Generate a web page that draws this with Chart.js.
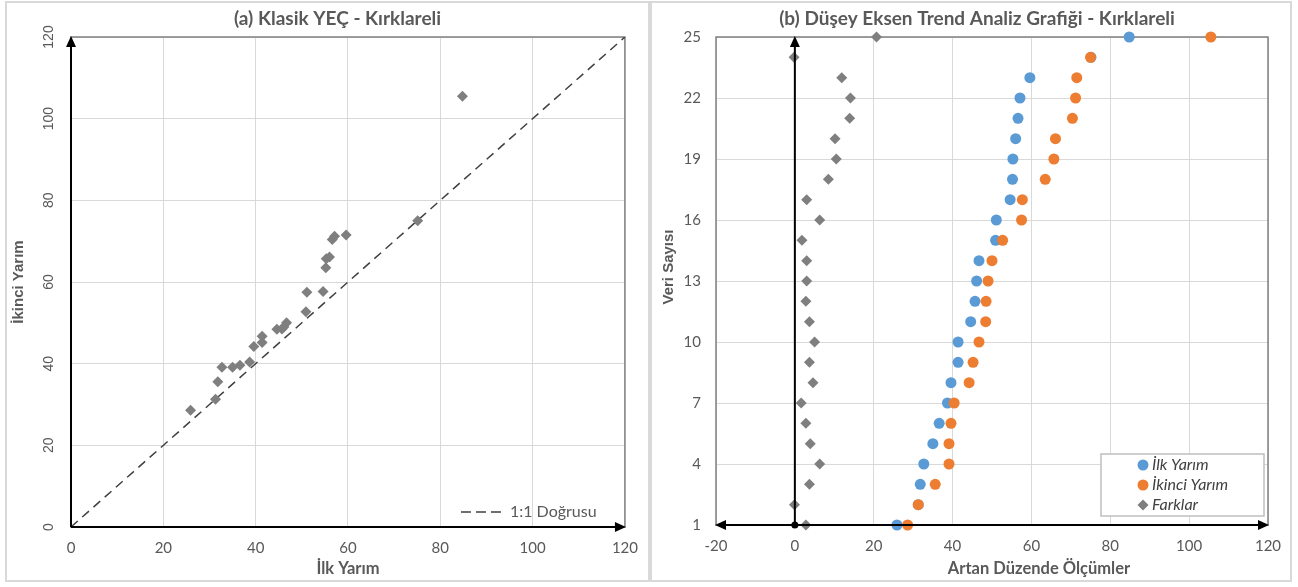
<!DOCTYPE html>
<html>
<head>
<meta charset="utf-8">
<script src="https://cdn.jsdelivr.net/npm/chart.js@4.4.0/dist/chart.umd.min.js"></script>
<style>
  body { margin: 0; background: #fff; }
  #wrap { position: relative; width: 1298px; height: 587px; }
  canvas { position: absolute; top: 0; }
  #chartA { left: 0; }
  #chartB { left: 650px; }
</style>
</head>
<body>
<div id="wrap">
  <canvas id="chartA" width="650" height="587"></canvas>
  <canvas id="chartB" width="648" height="587"></canvas>
</div>
<script>
// sira numarasi (artan duzende)
const sira = [1, 2, 3, 4, 5, 6, 7, 8, 9, 10, 11, 12, 13, 14, 15, 16, 17, 18, 19, 20, 21, 22, 23, 24, 25];
const ilkYarim = [25.9, 31.3, 31.8, 32.7, 35.0, 36.6, 38.7, 39.6, 41.4, 41.4, 44.6, 45.7, 46.1, 46.7, 50.9, 51.1, 54.6, 55.2, 55.3, 56.0, 56.6, 57.1, 59.6, 75.1, 84.8];
const ikinciYarim = [28.6, 31.3, 35.6, 39.1, 39.1, 39.6, 40.4, 44.2, 45.2, 46.7, 48.4, 48.5, 49.0, 50.0, 52.7, 57.5, 57.7, 63.5, 65.7, 66.1, 70.4, 71.2, 71.5, 75.0, 105.5];
const farklar = [2.8, -0.1, 3.7, 6.3, 3.9, 2.8, 1.6, 4.6, 3.7, 5.0, 3.7, 2.8, 3.0, 3.0, 1.8, 6.3, 3.0, 8.5, 10.5, 10.2, 13.9, 14.1, 11.9, -0.2, 20.7];
const birebir = [0, 120];

const xTicksA = [0, 20, 40, 60, 80, 100, 120];
const xTicksB = [-20, 0, 20, 40, 60, 80, 100, 120];

const gri = '#595959';
const izgara = '#d9d9d9';

function okBasi(ctx, x, y, yon) {
  ctx.beginPath();
  if (yon === 'up') {
    ctx.moveTo(x, y - 1); ctx.lineTo(x - 5, y + 10); ctx.lineTo(x + 5, y + 10);
  } else if (yon === 'right') {
    ctx.moveTo(x + 1, y); ctx.lineTo(x - 10, y - 5); ctx.lineTo(x - 10, y + 5);
  } else {
    ctx.moveTo(x - 1, y); ctx.lineTo(x + 10, y - 5); ctx.lineTo(x + 10, y + 5);
  }
  ctx.closePath();
  ctx.fill();
}

// baslik kaydirma (Excel'deki gibi panel ortasina)
function baslikKaydir(dx) {
  return {
    id: 'baslikKaydir',
    afterLayout(chart) {
      chart.titleBlock.left += dx;
      chart.titleBlock.right += dx;
    }
  };
}

const cerceveA = {
  id: 'cerceveA',
  beforeDraw(chart) {
    const ctx = chart.ctx;
    ctx.save();
    ctx.strokeStyle = izgara;
    ctx.lineWidth = 2;
    ctx.strokeRect(6, 2, 643, 579);
    ctx.restore();
  },
  beforeDatasetsDraw(chart) {
    const a = chart.chartArea, ctx = chart.ctx;
    ctx.save();
    ctx.strokeStyle = '#808080';
    ctx.lineWidth = 1.5;
    ctx.strokeRect(a.left, a.top, a.right - a.left, a.bottom - a.top);
    ctx.restore();
  },
  afterDatasetsDraw(chart) {
    const ctx = chart.ctx, a = chart.chartArea;
    const x = chart.scales.x, y = chart.scales.y;
    const x0 = x.getPixelForValue(0), y0 = y.getPixelForValue(0);
    ctx.save();
    ctx.strokeStyle = '#000'; ctx.fillStyle = '#000'; ctx.lineWidth = 2;
    ctx.beginPath();
    ctx.moveTo(x0, y0); ctx.lineTo(x0, a.top + 6);
    ctx.moveTo(x0, y0); ctx.lineTo(a.right - 6, y0);
    ctx.stroke();
    okBasi(ctx, x0, a.top, 'up');
    okBasi(ctx, a.right, y0, 'right');
    // lejant
    const ly = a.bottom - 15;
    ctx.strokeStyle = '#404040'; ctx.lineWidth = 1.5;
    ctx.setLineDash([10, 5]);
    ctx.beginPath(); ctx.moveTo(a.right - 164, ly); ctx.lineTo(a.right - 119, ly); ctx.stroke();
    ctx.setLineDash([]);
    ctx.fillStyle = gri;
    ctx.font = '16px Lato';
    ctx.textBaseline = 'middle';
    ctx.fillText('1:1 Doğrusu', a.right - 115, ly);
    ctx.restore();
  }
};

const cerceveB = {
  id: 'cerceveB',
  beforeDraw(chart) {
    const ctx = chart.ctx;
    ctx.save();
    ctx.strokeStyle = izgara;
    ctx.lineWidth = 2;
    ctx.strokeRect(1, 2, 640, 579);
    ctx.restore();
  },
  beforeDatasetsDraw(chart) {
    const a = chart.chartArea, ctx = chart.ctx;
    ctx.save();
    ctx.strokeStyle = '#808080';
    ctx.lineWidth = 1.5;
    ctx.strokeRect(a.left, a.top, a.right - a.left, a.bottom - a.top);
    ctx.restore();
  },
  afterDatasetsDraw(chart) {
    const ctx = chart.ctx, a = chart.chartArea;
    const x = chart.scales.x, y = chart.scales.y;
    const x0 = x.getPixelForValue(0), y1 = y.getPixelForValue(1);
    ctx.save();
    ctx.strokeStyle = '#000'; ctx.fillStyle = '#000'; ctx.lineWidth = 2;
    ctx.beginPath();
    ctx.moveTo(a.left + 6, y1); ctx.lineTo(a.right - 6, y1);
    ctx.moveTo(x0, y1); ctx.lineTo(x0, a.top + 6);
    ctx.stroke();
    okBasi(ctx, a.left, y1, 'left');
    okBasi(ctx, a.right, y1, 'right');
    okBasi(ctx, x0, a.top, 'up');
    ctx.beginPath(); ctx.arc(x0, y1, 3.5, 0, Math.PI * 2); ctx.fill();
    ctx.restore();
  },
  afterDraw(chart) {
    const ctx = chart.ctx, a = chart.chartArea;
    ctx.save();
    // eksen basliklari
    ctx.fillStyle = gri;
    ctx.textAlign = 'center';
    ctx.textBaseline = 'middle';
    ctx.font = 'bold 16.5px Lato';
    ctx.fillText('Artan Düzende Ölçümler', (a.left + a.right) / 2 + 47, 569);
    ctx.save();
    ctx.translate(19, (a.top + a.bottom) / 2 - 14);
    ctx.rotate(-Math.PI / 2);
    ctx.font = 'bold 15px "Liberation Sans"';
    ctx.fillText('Veri Sayısı', 0, 0);
    ctx.restore();

    // lejant kutusu
    const bx = a.right - 167, by = a.bottom - 71, bw = 163, bh = 62;
    ctx.fillStyle = '#fff';
    ctx.fillRect(bx, by, bw, bh);
    ctx.strokeStyle = '#bfbfbf'; ctx.lineWidth = 1.5;
    ctx.strokeRect(bx, by, bw, bh);
    const items = chart.data.datasets;
    ctx.font = 'italic 16px Lato';
    ctx.textAlign = 'left';
    [0, 1, 2].forEach((k, i) => {
      const ds = items[k];
      const cy = by + 11 + i * 20;
      const cx = bx + 42;
      ctx.fillStyle = ds.backgroundColor;
      ctx.beginPath();
      if (ds.pointStyle === 'rectRot') {
        ctx.moveTo(cx, cy - 5.5); ctx.lineTo(cx + 5.5, cy); ctx.lineTo(cx, cy + 5.5); ctx.lineTo(cx - 5.5, cy);
        ctx.closePath();
      } else {
        ctx.arc(cx, cy, 5.5, 0, Math.PI * 2);
      }
      ctx.fill();
      ctx.fillStyle = '#404040';
      ctx.fillText(ds.label, bx + 51, cy);
    });
    ctx.restore();
  }
};

new Chart(document.getElementById('chartA'), {
  type: 'scatter',
  data: {
    datasets: [
      {
        label: 'Ölçümler',
        data: ilkYarim.map((v, i) => ({ x: v, y: ikinciYarim[i] })),
        pointStyle: 'rectRot',
        pointRadius: 5.5,
        backgroundColor: '#7f7f7f',
        borderColor: '#7f7f7f',
        borderWidth: 0,
        order: 1
      },
      {
        label: '1:1 Doğrusu',
        data: birebir.map(v => ({ x: v, y: v })),
        showLine: true,
        pointRadius: 0,
        borderColor: '#404040',
        borderWidth: 1.5,
        borderDash: [9, 6],
        order: 2
      }
    ]
  },
  options: {
    responsive: false,
    animation: false,
    layout: { padding: { top: 3, left: 4, right: 23, bottom: 6 } },
    plugins: {
      legend: { display: false },
      tooltip: { enabled: false },
      title: {
        display: true,
        text: '(a) Klasik YEÇ - Kırklareli',
        color: gri,
        font: { family: 'Lato', size: 19, weight: 'bold' },
        padding: { top: 4, bottom: 7.2 }
      }
    },
    scales: {
      x: {
        type: 'linear', min: 0, max: 120,
        afterBuildTicks: s => { s.ticks = xTicksA.map(v => ({ value: v })); },
        ticks: { color: gri, font: { family: 'Lato', size: 15 }, padding: 12 },
        grid: { color: izgara, drawTicks: false },
        border: { display: false },
        title: { display: true, text: 'İlk Yarım', color: gri, font: { family: 'Lato', size: 16.5, weight: 'bold' }, padding: { top: 0, bottom: 2 } },
        afterFit: s => { s.height = 54; }
      },
      y: {
        type: 'linear', min: 0, max: 120,
        ticks: { stepSize: 20, color: gri, font: { family: 'Liberation Sans', size: 14 }, minRotation: 90, maxRotation: 90, crossAlign: 'center', padding: 10 },
        grid: { color: izgara, drawTicks: false },
        border: { display: false },
        title: { display: true, text: 'İkinci Yarım', color: gri, font: { family: 'Liberation Sans', size: 15, weight: 'bold' }, padding: { top: 6, bottom: 0 } },
        afterFit: s => { s.width = 67; }
      }
    }
  },
  plugins: [cerceveA, baslikKaydir(22)]
});

new Chart(document.getElementById('chartB'), {
  type: 'scatter',
  data: {
    datasets: [
      {
        label: 'İlk Yarım',
        data: ilkYarim.map((v, i) => ({ x: v, y: sira[i] })),
        pointStyle: 'circle', pointRadius: 5.5,
        backgroundColor: '#5b9bd5', borderColor: '#5b9bd5', borderWidth: 0,
        order: 3
      },
      {
        label: 'İkinci Yarım',
        data: ikinciYarim.map((v, i) => ({ x: v, y: sira[i] })),
        pointStyle: 'circle', pointRadius: 5.5,
        backgroundColor: '#ed7d31', borderColor: '#ed7d31', borderWidth: 0,
        order: 2
      },
      {
        label: 'Farklar',
        data: farklar.map((v, i) => ({ x: v, y: sira[i] })),
        pointStyle: 'rectRot', pointRadius: 5.5,
        backgroundColor: '#7f7f7f', borderColor: '#7f7f7f', borderWidth: 0,
        order: 1
      }
    ]
  },
  options: {
    responsive: false,
    animation: false,
    clip: false,
    layout: { padding: { top: 3, left: 4, right: 30, bottom: 6 } },
    plugins: {
      legend: { display: false },
      tooltip: { enabled: false },
      title: {
        display: true,
        text: '(b) Düşey Eksen Trend Analiz Grafiği - Kırklareli',
        color: gri,
        font: { family: 'Lato', size: 19, weight: 'bold' },
        padding: { top: 4, bottom: 7.2 }
      }
    },
    scales: {
      x: {
        type: 'linear', min: -20, max: 120,
        afterBuildTicks: s => { s.ticks = xTicksB.map(v => ({ value: v })); },
        ticks: { color: gri, font: { family: 'Lato', size: 15 }, padding: 12 },
        grid: { color: izgara, drawTicks: false },
        border: { display: false },
        title: { display: false },
        afterFit: s => { s.height = 56; }
      },
      y: {
        type: 'linear', min: 1, max: 25,
        ticks: { stepSize: 3, color: gri, font: { family: 'Lato', size: 15 }, padding: 15 },
        grid: { color: izgara, drawTicks: false },
        border: { display: false },
        title: { display: false },
        afterFit: s => { s.width = 62; }
      }
    }
  },
  plugins: [cerceveB, baslikKaydir(16)]
});
</script>
</body>
</html>
